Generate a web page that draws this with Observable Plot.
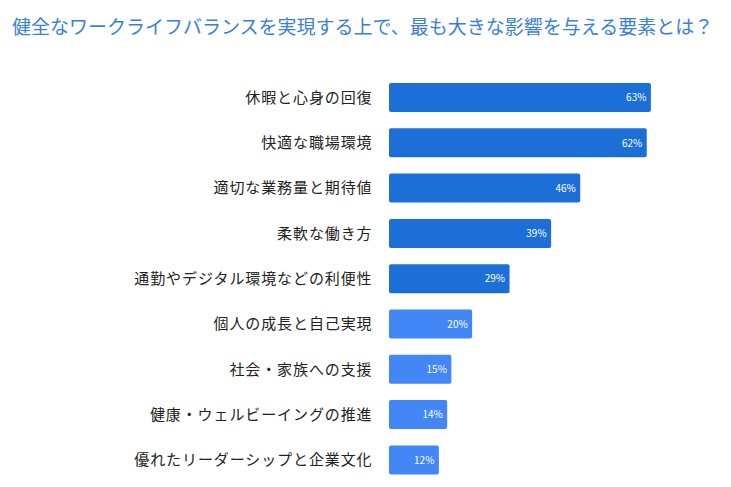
<!DOCTYPE html>
<html><head><meta charset="utf-8">
<script src="https://cdn.jsdelivr.net/npm/d3@7"></script>
<script src="https://cdn.jsdelivr.net/npm/@observablehq/plot@0.6"></script>
<style>
body{margin:0;background:#fff;font-family:"Noto Sans CJK JP","Noto Sans",sans-serif;}
#title{height:50px;box-sizing:border-box;padding:14px 0 0 12px;font-size:19px;color:#3a7fd8;line-height:24px;white-space:nowrap;}
</style>
</head><body>
<div id="title">健全なワークライフバランスを実現する上で、最も大きな影響を与える要素とは？</div>
<div id="chart"></div>
<script>
const categories = ["休暇と心身の回復","快適な職場環境","適切な業務量と期待値","柔軟な働き方","通勤やデジタル環境などの利便性","個人の成長と自己実現","社会・家族への支援","健康・ウェルビーイングの推進","優れたリーダーシップと企業文化"];
const values = [63,62,46,39,29,20,15,14,12];
const groups = ["上位","上位","上位","上位","上位","その他","その他","その他","その他"];
const data = categories.map((c,i)=>({category:c,value:values[i],group:groups[i]}));
const chart = Plot.plot({
  width:731, height:437,
  marginLeft:389, marginRight:51, marginTop:33, marginBottom:12.6,
  style:{fontFamily:'"Noto Sans CJK JP","Noto Sans",sans-serif', background:"#fff"},
  x:{domain:[0,70], axis:null},
  y:{domain:categories, paddingInner:0.36, paddingOuter:0, round:false, axis:null},
  color:{domain:["上位","その他"], range:["#1d6fd8","#4287f5"]},
  marks:[
    Plot.barX(data,{y:"category",x:"value",fill:"group",rx:2}),
    Plot.text(data,{y:"category",x:0,text:"category",textAnchor:"end",dx:-17,fontSize:15,fill:"#222",style:"letter-spacing:0.9px"}),
    Plot.text(data,{y:"category",x:"value",text:d=>d.value+"%",textAnchor:"end",dx:-5,fontSize:10,fill:"#fff"})
  ]
});
chart.querySelectorAll("text").forEach(t=>{ if(t.textContent.indexOf("%")<0) t.style.letterSpacing="0.9px"; });
document.getElementById("chart").appendChild(chart);
</script>
</body></html>
